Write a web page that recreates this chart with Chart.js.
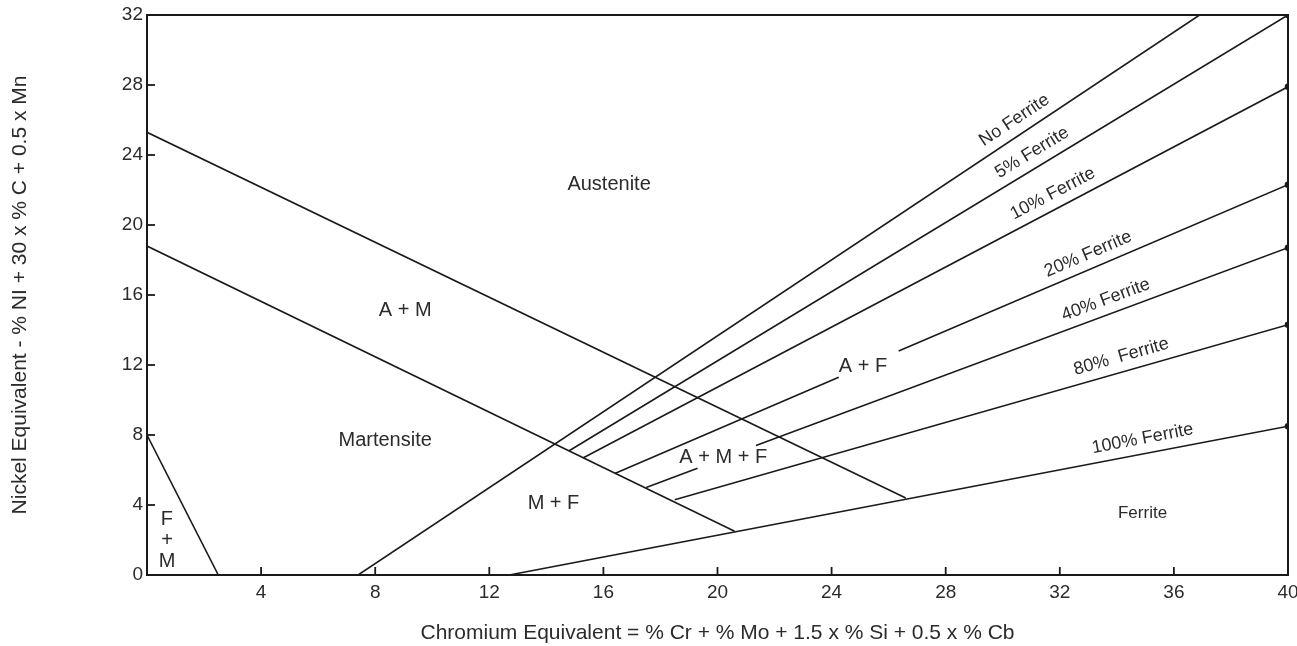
<!DOCTYPE html>
<html>
<head>
<meta charset="utf-8">
<script src="https://cdn.jsdelivr.net/npm/chart.js@4/dist/chart.umd.min.js"></script>
<style>
  html, body { margin: 0; padding: 0; background: #fff; }
  #wrap { width: 1297px; height: 646px; position: relative; }
</style>
</head>
<body>
<div id="wrap"><canvas id="chart"></canvas></div>
<script>
// ── Diagram data (Cr equivalent, Ni equivalent) ─────────────
const austeniteLimit = [[0, 25.3], [26.6, 4.4]];
const martensiteLimit = [[0, 18.8], [20.6, 2.5]];
const fmLimit = [[0, 8], [2.5, 0]];
const noFerrite = [[7.4, 0], [36.9, 32]];
const ferrite5 = [[14.8, 7.1], [40, 32]];
const ferrite10 = [[15.3, 6.7], [40, 27.9]];
const ferrite20 = [[16.4, 5.8], [24.25, 11.3], [25.3, null], [26.35, 12.8], [40, 22.3]];
const ferrite40 = [[17.5, 5.0], [19.3, 6.1], [20.3, null], [21.35, 7.4], [40, 18.7]];
const ferrite80 = [[18.5, 4.3], [40, 14.3]];
const ferrite100 = [[12.7, 0], [40, 8.5]];

const xTicks = [4, 8, 12, 16, 20, 24, 28, 32, 36, 40];
const yTicks = [0, 4, 8, 12, 16, 20, 24, 28, 32];

const regionLabels = [
    { text: 'Austenite', x: 16.2, y: 22.3 },
    { text: 'A + M', x: 9.05, y: 15.1 },
    { text: 'Martensite', x: 8.35, y: 7.7 },
    { text: 'M + F', x: 14.25, y: 4.1 },
    { text: 'A + F', x: 25.1, y: 11.9 },
    { text: 'A + M + F', x: 20.2, y: 6.7 },
    { text: 'F', x: 0.7, y: 3.15 },
    { text: '+', x: 0.7, y: 2.0 },
    { text: 'M', x: 0.7, y: 0.75 }
];
const smallLabels = [
    { text: 'Ferrite', x: 34.9, y: 3.5 }
];

// label text, line it sits on, position along the line (Cr eq.)
const lineLabels = [
    { text: 'No Ferrite', line: noFerrite, x: 30.7 },
    { text: '5% Ferrite', line: ferrite5, x: 31.3 },
    { text: '10% Ferrite', line: ferrite10, x: 32.0 },
    { text: '20% Ferrite', line: ferrite20, x: 33.2 },
    { text: '40% Ferrite', line: ferrite40, x: 33.8 },
    { text: '80%  Ferrite', line: ferrite80, x: 34.3 },
    { text: '100% Ferrite', line: ferrite100, x: 35.0 }
];

const ink = '#1a1a1a';
const textInk = '#2b2b2b';
const font = "'Liberation Sans', Arial, sans-serif";

function toPoints(arr) {
    return arr.map(p => ({ x: p[0], y: p[1] }));
}

function lineSet(arr, endDot) {
    const pts = toPoints(arr);
    return {
        data: pts, showLine: true, borderColor: ink, backgroundColor: ink,
        borderWidth: 1.6, spanGaps: false,
        pointRadius: pts.map(p => (endDot && p.x === 40 ? 2.5 : 0)),
        pointHoverRadius: 0
    };
}

const annotate = {
    id: 'annotate',
    afterDraw(chart) {
        const { ctx, chartArea: a, scales: { x, y } } = chart;
        ctx.save();
        // frame top / right
        ctx.strokeStyle = ink;
        ctx.lineWidth = 2;
        ctx.strokeRect(a.left, a.top, a.right - a.left, a.bottom - a.top);
        // inward tick marks
        ctx.lineWidth = 1.8;
        yTicks.slice(1, -1).forEach(v => {
            const py = y.getPixelForValue(v);
            ctx.beginPath(); ctx.moveTo(a.left, py); ctx.lineTo(a.left + 8, py); ctx.stroke();
        });
        xTicks.slice(0, -1).forEach(v => {
            const px = x.getPixelForValue(v);
            ctx.beginPath(); ctx.moveTo(px, a.bottom); ctx.lineTo(px, a.bottom - 8); ctx.stroke();
        });
        // region names
        ctx.fillStyle = textInk;
        ctx.textAlign = 'center';
        ctx.textBaseline = 'middle';
        ctx.font = '20px ' + font;
        regionLabels.forEach(l => {
            ctx.fillText(l.text, x.getPixelForValue(l.x), y.getPixelForValue(l.y));
        });
        ctx.font = '17px ' + font;
        smallLabels.forEach(l => {
            ctx.fillText(l.text, x.getPixelForValue(l.x), y.getPixelForValue(l.y));
        });
        // ferrite line labels, rotated along their line
        ctx.font = '18px ' + font;
        lineLabels.forEach(l => {
            const pts = l.line.filter(p => p[1] !== null);
            const p0 = pts[0], p1 = pts[pts.length - 1];
            const x0 = x.getPixelForValue(p0[0]), y0 = y.getPixelForValue(p0[1]);
            const x1 = x.getPixelForValue(p1[0]), y1 = y.getPixelForValue(p1[1]);
            const ang = Math.atan2(y1 - y0, x1 - x0);
            const px = x.getPixelForValue(l.x);
            const py = y0 + (px - x0) * (y1 - y0) / (x1 - x0);
            const off = 15;
            ctx.save();
            ctx.translate(px + off * Math.sin(ang), py - off * Math.cos(ang));
            ctx.rotate(ang);
            ctx.fillText(l.text, 0, 0);
            ctx.restore();
        });
        ctx.restore();
    }
};

new Chart(document.getElementById('chart'), {
    type: 'scatter',
    data: {
        datasets: [
            lineSet(austeniteLimit), lineSet(martensiteLimit), lineSet(fmLimit),
            lineSet(noFerrite), lineSet(ferrite5, true), lineSet(ferrite10, true),
            lineSet(ferrite20, true), lineSet(ferrite40, true), lineSet(ferrite80, true),
            lineSet(ferrite100, true)
        ]
    },
    options: {
        responsive: true, maintainAspectRatio: false, animation: false,
        layout: { padding: { top: 15, right: 9, left: 0, bottom: 0 } },
        plugins: { legend: { display: false }, tooltip: { enabled: false } },
        scales: {
            x: {
                type: 'linear', min: 0, max: 40,
                afterFit(s) { s.height = 71; s.paddingRight = 0; s.paddingLeft = 0; },
                afterBuildTicks(s) { s.ticks = [0].concat(xTicks).map(v => ({ value: v })); },
                grid: { display: false, drawTicks: false },
                border: { display: true, color: ink, width: 2 },
                ticks: {
                    color: textInk, padding: 6, maxRotation: 0, autoSkip: false,
                    font: { family: font, size: 19 },
                    callback: v => (v === 0 ? '' : v)
                },
                title: {
                    display: true, color: textInk, padding: { top: 8, bottom: 0 },
                    font: { family: font, size: 21 },
                    text: 'Chromium Equivalent = % Cr + % Mo + 1.5 x % Si + 0.5 x % Cb'
                }
            },
            y: {
                type: 'linear', min: 0, max: 32,
                afterFit(s) { s.width = 147; s.paddingTop = 0; s.paddingBottom = 0; },
                afterBuildTicks(s) { s.ticks = yTicks.map(v => ({ value: v })); },
                grid: { display: false, drawTicks: false },
                border: { display: true, color: ink, width: 2 },
                ticks: { color: textInk, padding: 4, autoSkip: false, font: { family: font, size: 19 } },
                title: {
                    display: true, color: textInk, padding: { top: 8, bottom: 0 },
                    font: { family: font, size: 21 },
                    text: 'Nickel Equivalent - % NI + 30 x % C + 0.5 x Mn'
                }
            }
        }
    },
    plugins: [annotate]
});
</script>
</body>
</html>
